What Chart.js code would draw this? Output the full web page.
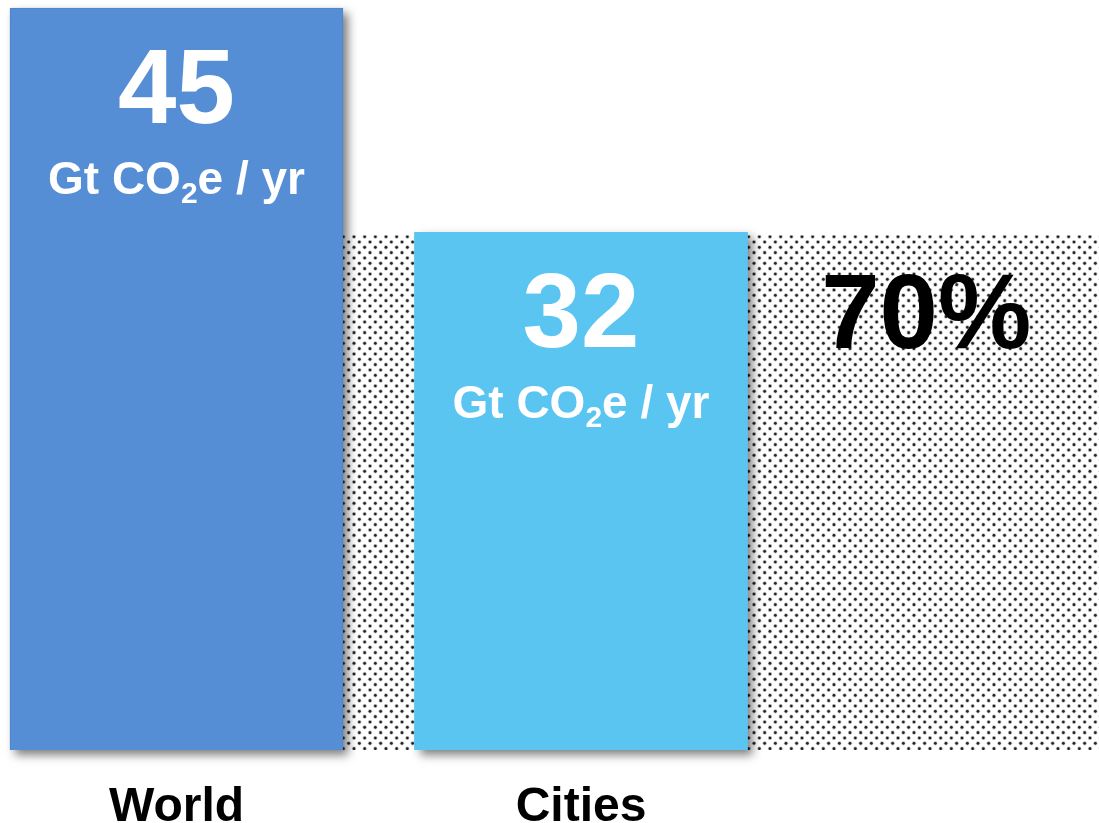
<!DOCTYPE html>
<html><head><meta charset="utf-8">
<script src="https://cdn.jsdelivr.net/npm/chart.js@4"></script>
<style>html,body{margin:0;padding:0;background:#fff;}canvas{display:block;}</style>
</head><body>
<canvas id="c" width="1099" height="823"></canvas>
<script>
// ---- data ----
const categories = ["World", "Cities"];
const emissions = [45, 32];            // Gt CO2e per year
const valueLabels = ["45", "32"];
const unitParts = ["Gt CO", "2", "e / yr"];
const citiesShareLabel = "70%";

// ---- styles ----
const FONT = '"Liberation Sans", Arial, Helvetica, sans-serif';
const barColors = ['#558ed5', '#5bc5f1'];
const barBorders = ['#4d84c9', '#5bc5f1'];

function makePattern(ctx) {
  const S = 32;
  const t = document.createElement('canvas');
  t.width = S; t.height = S;
  const g = t.getContext('2d');
  g.fillStyle = '#ffffff';
  g.fillRect(0, 0, S, S);
  const p = S / 3;
  for (let i = -1; i <= 3; i++) {
    for (let j = -1; j <= 3; j++) {
      for (const [ox, oy] of [[0, 0], [p / 2, p / 2]]) {
        const cx = i * p + ox + 2, cy = j * p + oy + 2;
        g.fillStyle = 'rgba(60,60,60,0.35)';
        g.beginPath(); g.arc(cx, cy, 2.1, 0, Math.PI * 2); g.fill();
        g.fillStyle = '#202020';
        g.beginPath(); g.arc(cx, cy, 1.3, 0, Math.PI * 2); g.fill();
      }
    }
  }
  return ctx.createPattern(t, 'repeat');
}

const overlay = {
  id: 'overlay',
  beforeDatasetsDraw(chart) {
    const ctx = chart.ctx;
    const meta = chart.getDatasetMeta(0);
    const w = meta.data[0];
    const yS = chart.scales.y;
    const left = w.x + w.width / 2;
    const top = yS.getPixelForValue(emissions[1]) + 3;
    const bottom = yS.getBasePixel();
    ctx.save();
    ctx.fillStyle = makePattern(ctx);
    ctx.fillRect(left, top, chart.width - left, bottom - top);
    ctx.restore();
    // drop shadows under the bars
    meta.data.forEach((el, i) => {
      const base = el.base;
      ctx.save();
      ctx.shadowColor = 'rgba(0,0,0,0.5)';
      ctx.shadowBlur = 9;
      ctx.shadowOffsetX = 5;
      ctx.shadowOffsetY = 5;
      ctx.fillStyle = barColors[i];
      ctx.fillRect(el.x - el.width / 2, el.y, el.width, base - el.y);
      ctx.restore();
    });
  },
  afterDatasetsDraw(chart) {
    const ctx = chart.ctx;
    const meta = chart.getDatasetMeta(0);
    ctx.save();
    ctx.fillStyle = '#ffffff';
    ctx.textBaseline = 'alphabetic';
    meta.data.forEach((el, i) => {
      const cx = el.x, top = el.y;
      ctx.textAlign = 'center';
      ctx.font = 'bold 105px ' + FONT;
      ctx.fillText(valueLabels[i], cx, top + 115);
      ctx.textAlign = 'left';
      const big = 'bold 46px ' + FONT, small = 'bold 30px ' + FONT;
      ctx.font = big; const w0 = ctx.measureText(unitParts[0]).width;
      ctx.font = small; const w1 = ctx.measureText(unitParts[1]).width;
      ctx.font = big; const w2 = ctx.measureText(unitParts[2]).width;
      let x = cx - (w0 + w1 + w2) / 2;
      const base = top + 186;
      ctx.font = big; ctx.fillText(unitParts[0], x, base); x += w0;
      ctx.font = small; ctx.fillText(unitParts[1], x, base + 9); x += w1;
      ctx.font = big; ctx.fillText(unitParts[2], x, base);
    });
    const c = meta.data[1];
    const midX = (c.x + c.width / 2 + chart.width) / 2 + 3;
    ctx.fillStyle = '#000000';
    ctx.textAlign = 'center';
    ctx.font = 'bold 105px ' + FONT;
    ctx.fillText(citiesShareLabel, midX, c.y + 116);
    ctx.restore();
  }
};

new Chart(document.getElementById('c'), {
  type: 'bar',
  data: {
    labels: categories,
    datasets: [{
      data: emissions,
      backgroundColor: barColors,
      borderColor: barBorders,
      borderWidth: 1,
      barThickness: 333,
      base: 2,
      clip: false
    }]
  },
  options: {
    responsive: false,
    animation: false,
    events: [],
    layout: { padding: { left: 176.5, right: 518, top: 8, bottom: 0 } },
    plugins: { legend: { display: false }, tooltip: { enabled: false } },
    scales: {
      x: {
        offset: false,
        grid: { display: false, drawTicks: false },
        border: { display: false },
        afterFit(scale) { scale.height = 73; },
        ticks: {
          autoSkip: false, maxRotation: 0, minRotation: 0,
          padding: 29,
          color: '#000000',
          font: { family: FONT, size: 48, weight: 'bold' }
        }
      },
      y: { display: false, min: 2, max: 45 }
    }
  },
  plugins: [overlay]
});
</script>
</body></html>
